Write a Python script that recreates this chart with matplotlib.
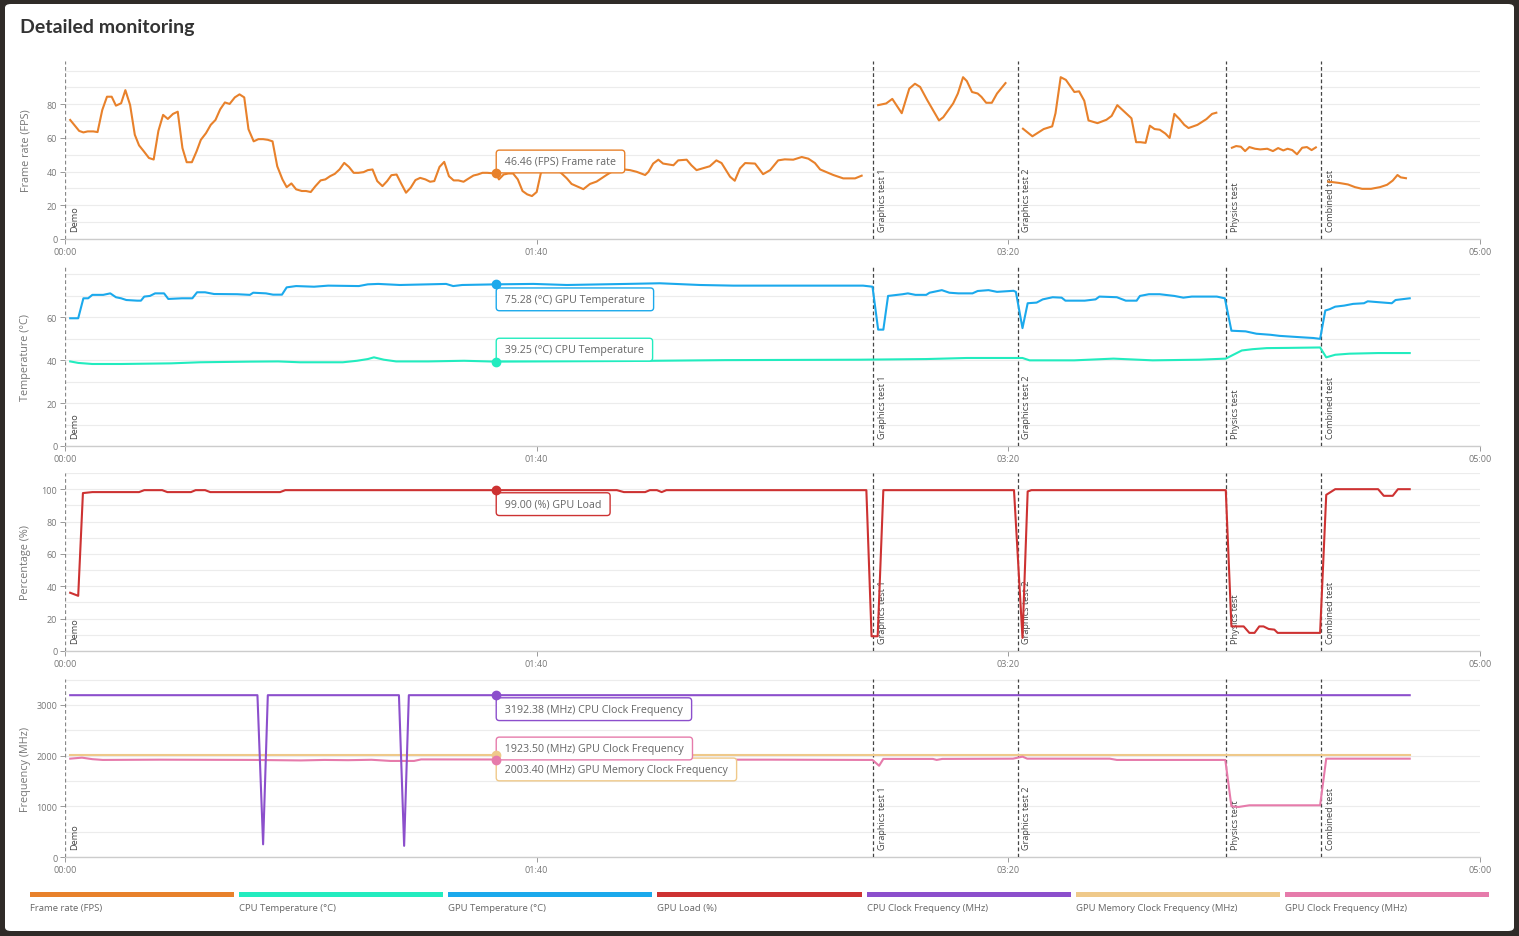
import numpy as np
import matplotlib
matplotlib.use("Agg")
import matplotlib.pyplot as plt
from matplotlib.patches import FancyBboxPatch, Rectangle
from matplotlib.transforms import blended_transform_factory

nan = float('nan')

# ---------------- data ----------------
# Frame rate (FPS), one segment per test (gaps between tests)
fps_demo_t = [1.1, 3.0, 3.9, 4.8, 6.0, 6.9, 7.9, 8.9, 9.9, 10.8,
              11.9, 12.8, 13.8, 14.8, 15.7, 16.7, 17.8, 18.8, 19.8, 20.8,
              21.8, 22.9, 23.9, 24.9, 25.8, 26.9, 27.9, 28.8, 29.9, 30.9,
              31.9, 32.9, 33.9, 34.9, 36.0, 37.0, 38.0, 38.9, 40.0, 41.0,
              42.0, 43.0, 44.0, 45.0, 46.1, 47.0, 48.0, 49.0, 50.2, 51.1,
              52.1, 53.1, 54.2, 55.2, 56.2, 57.2, 58.2, 59.2, 60.2, 61.2,
              62.2, 63.3, 64.2, 65.2, 66.2, 67.3, 68.3, 69.2, 70.3, 71.3,
              72.3, 73.3, 74.3, 75.3, 76.4, 77.4, 78.3, 79.4, 80.4, 81.4,
              82.4, 83.4, 84.5, 85.5, 86.6, 87.5, 88.5, 89.5, 91.4, 92.0,
              93.0, 94.0, 95.0, 96.0, 97.0, 98.0, 99.0, 100.0, 100.9, 102.5,
              104.5, 106.4, 107.4, 109.9, 111.3, 112.7, 114.8, 117.0, 119.8, 121.2,
              123.0, 123.7, 124.7, 125.8, 126.8, 129.0, 130.0, 131.8, 132.8, 133.9,
              136.7, 138.1, 139.2, 141.0, 142.0, 143.1, 144.2, 146.3, 148.0, 149.5,
              151.2, 152.6, 154.4, 156.2, 157.6, 159.0, 160.1, 162.9, 165.0, 167.5,
              168.9]
fps_demo_v = [70.7, 64.2, 63.3, 63.9, 63.9, 63.5, 76.6, 84.5, 84.5, 79.2,
              80.6, 88.4, 79.6, 61.9, 55.6, 52.1, 48.1, 47.2, 64.2, 73.7,
              71.3, 74.3, 75.6, 54.0, 45.6, 45.6, 52.1, 58.9, 62.9, 67.8,
              70.7, 77.0, 81.1, 80.2, 84.1, 85.9, 84.1, 65.2, 58.0, 59.3,
              59.3, 58.9, 58.0, 43.2, 35.4, 30.8, 33.0, 29.5, 28.5, 28.5,
              27.9, 31.4, 34.8, 35.4, 37.3, 38.7, 41.3, 45.2, 42.8, 39.3,
              39.3, 39.7, 40.9, 41.3, 34.4, 31.4, 34.4, 37.9, 38.3, 32.8,
              27.5, 30.5, 35.0, 36.3, 35.4, 34.0, 34.4, 42.8, 45.8, 37.3,
              34.8, 34.8, 34.0, 35.8, 37.7, 38.3, 39.3, 39.3, 38.9, 35.4,
              38.3, 38.9, 38.9, 35.4, 28.5, 26.5, 25.5, 27.9, 39.3, 44.0,
              41.0, 36.0, 32.7, 29.6, 32.7, 34.1, 38.0, 41.8, 40.9, 39.9,
              38.0, 39.9, 44.8, 47.1, 44.8, 43.8, 46.7, 47.1, 43.8, 40.9,
              43.2, 46.7, 45.1, 37.0, 34.6, 41.9, 45.1, 44.8, 38.5, 40.9,
              46.7, 47.3, 47.1, 48.7, 47.7, 45.1, 41.3, 38.0, 36.0, 36.0,
              37.6]
fps_gt1_t = [172.4, 174.1, 175.4, 177.4, 179.0, 180.2, 181.3, 182.8, 185.3, 186.2,
             188.3, 189.3, 190.4, 191.2, 192.3, 193.5, 194.3, 195.3, 196.5, 197.6, 199.4]
fps_gt1_v = [79.5, 80.5, 83.2, 74.7, 89.3, 92.2, 90.3, 82.5, 70.4, 72.3,
             80.5, 86.4, 96.1, 93.8, 87.3, 86.4, 84.4, 80.9, 80.9, 86.4, 92.6]
fps_gt2_t = [203.1, 205.1, 207.5, 209.3, 210.0, 211.1, 212.2, 214.0, 215.0, 216.1,
             217.0, 218.9, 220.8, 221.9, 223.1, 224.6, 226.1, 227.1, 228.0, 229.1,
             230.0, 231.0, 232.1, 233.3, 234.2, 235.2, 236.3, 237.3, 238.2, 240.1,
             242.0, 243.2, 244.1]
fps_gt2_v = [65.5, 61.0, 65.3, 66.9, 74.7, 96.1, 94.5, 87.3, 87.7, 82.1,
             70.4, 68.8, 70.8, 73.1, 79.5, 75.6, 71.7, 57.5, 57.5, 57.1,
             67.3, 65.3, 64.9, 62.6, 60.0, 74.3, 71.2, 67.8, 65.9, 67.8,
             71.2, 74.3, 75.0]
fps_phys_t = [247.4, 248.3, 249.3, 250.2, 251.1, 252.3, 253.4, 254.9, 256.1, 257.2,
              258.3, 259.2, 260.2, 261.2, 262.3, 263.3, 264.3, 265.2]
fps_phys_v = [54.2, 55.2, 54.8, 52.2, 54.6, 53.6, 53.2, 53.6, 52.2, 54.0,
              52.6, 53.6, 52.8, 50.3, 54.2, 54.6, 52.8, 54.4]
fps_comb_t = [267.8, 270.1, 272.0, 273.5, 275.0, 276.9, 278.8, 280.3, 281.5, 282.5, 283.2, 284.3]
fps_comb_v = [34.1, 33.3, 32.4, 30.8, 29.8, 29.8, 30.8, 32.2, 34.7, 38.0, 36.6, 36.1]

# GPU temperature (°C)
gpu_temp_t = [1.1, 2.8, 3.9, 4.9, 5.8, 8.1, 9.6, 10.8, 11.9, 13.0, 15.3, 16.1, 16.8, 18.0, 19.1,
              21.0, 21.9, 24.8, 27.0, 28.0, 29.7, 31.6, 36.5, 39.2, 39.9, 42.6, 44.1, 46.0, 47.0,
              49.0, 52.8, 55.8, 62.3, 64.2, 66.4, 71.0, 77.0, 80.8, 82.3, 84.2, 91.4, 99.3, 106.4,
              119.1, 126.1, 134.6, 141.7, 162.9, 169.2, 171.2, 172.4, 173.5, 174.5, 177.6, 178.7,
              180.3, 182.6, 183.3, 185.9, 187.5, 189.4, 192.4, 193.5, 195.8, 197.6, 201.1, 201.6,
              203.0, 204.1, 206.0, 207.3, 209.4, 211.3, 212.1, 216.2, 218.5, 219.3, 223.0, 224.9,
              227.2, 227.9, 229.8, 232.1, 235.2, 237.1, 238.9, 244.2, 245.9, 247.3, 250.3, 252.6,
              255.6, 257.5, 261.7, 264.7, 266.1, 267.2, 268.1, 269.3, 271.2, 273.1, 275.4, 276.2,
              278.4, 281.3, 282.1, 285.1]
gpu_temp_v = [59.5, 59.5, 68.8, 68.8, 70.4, 70.4, 71.1, 69.3, 68.8, 68.0, 67.7, 67.7, 69.6, 69.9, 71.1,
              71.1, 68.5, 68.8, 68.8, 71.6, 71.6, 70.8, 70.7, 70.4, 71.4, 71.1, 70.5, 70.5, 73.9,
              74.5, 74.2, 74.7, 74.5, 75.3, 75.5, 75.0, 75.3, 75.5, 74.5, 75.0, 75.3, 75.5, 75.0,
              75.5, 75.8, 75.0, 74.7, 74.7, 74.7, 74.2, 54.2, 54.2, 69.9, 70.7, 71.1,
              70.4, 70.4, 71.4, 72.6, 71.4, 71.1, 71.1, 72.2, 72.6, 71.8, 72.3, 71.8,
              54.9, 66.5, 66.8, 68.3, 69.3, 69.1, 67.7, 67.7, 68.3, 69.6, 69.3, 67.7,
              67.7, 69.9, 70.7, 70.7, 69.9, 69.1, 69.6, 69.6, 68.8, 53.7, 53.4, 52.3,
              51.8, 51.3, 50.7, 50.3, 49.9, 63.1, 63.7, 64.9, 65.4, 66.2, 66.5, 67.4,
              67.0, 66.5, 68.0, 68.8]

# CPU temperature (°C)
cpu_temp_t = [1.1, 2.8, 5.8, 11.9, 22.5, 28.6, 39.2, 45.2, 49.8, 58.9, 61.9, 64.2, 65.5, 67.6,
              70.2, 77.0, 84.6, 91.4, 120.0, 140.0, 168.5, 182.6, 191.2, 201.8, 203.0, 204.5,
              214.0, 222.3, 230.6, 240.5, 246.1, 247.7, 249.5, 251.8, 254.8, 259.4, 266.1,
              267.4, 269.3, 272.3, 278.4, 285.1]
cpu_temp_v = [39.4, 38.7, 38.2, 38.2, 38.5, 39.0, 39.3, 39.4, 39.0, 39.0, 39.7, 40.5, 41.3, 40.2,
              39.4, 39.4, 39.7, 39.3, 39.6, 40.0, 40.2, 40.5, 41.0, 41.0, 41.0, 39.9,
              39.9, 40.7, 39.9, 40.2, 40.7, 42.5, 44.5, 45.1, 45.6, 45.7, 45.9,
              41.3, 42.5, 43.0, 43.3, 43.3]

# GPU load (%)
gpu_load_t = [1.1, 2.8, 3.8, 5.8, 15.7, 16.8, 20.6, 21.7, 26.7, 27.7, 29.7, 30.8, 45.6, 46.7,
              117.0, 118.5, 123.0, 124.0, 125.5, 126.5, 127.5, 169.9, 171.0, 172.3, 173.5,
              201.2, 203.0, 204.1, 204.9, 246.1, 247.3, 249.9, 251.1, 252.2, 253.2, 254.1,
              255.2, 256.4, 257.1, 266.1, 267.4, 269.3, 278.4, 279.6, 281.5, 282.6, 285.1]
gpu_load_v = [36.0, 34.1, 97.6, 98.2, 98.2, 99.4, 99.4, 98.2, 98.2, 99.4, 99.4, 98.2, 98.2, 99.4,
              99.4, 98.2, 98.2, 99.4, 99.4, 98.2, 99.4, 99.4, 9.1, 9.1, 99.4,
              99.4, 8.1, 98.6, 99.4, 99.4, 15.2, 15.2, 11.2, 11.2, 15.2, 15.2,
              13.6, 13.2, 11.2, 11.2, 96.5, 100.0, 100.0, 95.9, 95.9, 100.0, 100.0]

# CPU clock frequency (MHz)
cpu_clock_t = [1.1, 40.8, 42.0, 43.0, 70.8, 71.9, 72.9, 285.1]
cpu_clock_v = [3192.4, 3192.4, 250.0, 3192.4, 3192.4, 220.0, 3192.4, 3192.4]

# GPU memory clock frequency (MHz)
gpu_mem_t = [1.1, 285.1]
gpu_mem_v = [2003.4, 2003.4]

# GPU clock frequency (MHz)
gpu_clock_t = [1.1, 3.6, 5.8, 8.0, 20.0, 40.0, 50.0, 55.0, 60.0, 65.0, 69.0, 74.0, 75.5, 91.4,
               120.0, 150.0, 169.5, 171.2, 172.6, 173.5, 184.0, 184.8, 186.0, 201.0, 203.0,
               204.0, 221.5, 223.0, 246.0, 247.3, 248.8, 251.1, 266.1, 267.4, 285.1]
gpu_clock_v = [1940, 1960, 1930, 1915, 1920, 1915, 1905, 1915, 1910, 1918, 1895, 1895, 1925, 1923.5,
               1920, 1920, 1915, 1915, 1800, 1935, 1935, 1915, 1935, 1940, 1980,
               1940, 1940, 1915, 1915, 1000, 987, 1020, 1020, 1940, 1940]

event_times = [0.0, 171.3, 202.0, 246.2, 266.3]
event_labels = ['Demo', 'Graphics test 1', 'Graphics test 2', 'Physics test', 'Combined test']

xtick_vals = [0, 100, 200, 300]
xtick_labels = ['00:00', '01:40', '03:20', '05:00']

hover_time = 91.4
tip_fps = '46.46 (FPS) Frame rate'
tip_gpu_temp = '75.28 (°C) GPU Temperature'
tip_cpu_temp = '39.25 (°C) CPU Temperature'
tip_gpu_load = '99.00 (%) GPU Load'
tip_cpu_clock = '3192.38 (MHz) CPU Clock Frequency'
tip_gpu_clock = '1923.50 (MHz) GPU Clock Frequency'
tip_gpu_mem = '2003.40 (MHz) GPU Memory Clock Frequency'

legend_labels = ['Frame rate (FPS)', 'CPU Temperature (°C)', 'GPU Temperature (°C)', 'GPU Load (%)',
                 'CPU Clock Frequency (MHz)', 'GPU Memory Clock Frequency (MHz)', 'GPU Clock Frequency (MHz)']

C_FPS = '#e8812b'
C_CPU_T = '#22ecbf'
C_GPU_T = '#1ba9ec'
C_LOAD = '#cd3232'
C_CPU_CLK = '#8c4fcc'
C_GPU_MEM = '#efc98a'
C_GPU_CLK = '#e67bab'
legend_colors = [C_FPS, C_CPU_T, C_GPU_T, C_LOAD, C_CPU_CLK, C_GPU_MEM, C_GPU_CLK]

# ---------------- figure ----------------
plt.rcParams['font.family'] = ['Open Sans', 'DejaVu Sans']
W, H = 1519, 937
fig = plt.figure(figsize=(W / 100, H / 100), dpi=100)
fig.patch.set_facecolor('#2f2b28')
fig.add_artist(FancyBboxPatch((5 / W, 5 / H), 1509 / W, 927 / H,
                              boxstyle='round,pad=0,rounding_size=0.004',
                              transform=fig.transFigure, fc='white', ec='none', zorder=0))
fig.text(20 / W, 1 - 27 / H, 'Detailed monitoring', family=['Lato', 'DejaVu Sans'],
         fontweight='bold', fontsize=14, color='#333333', va='center', ha='left')

LEFT, RIGHT = 65, 1480


def make_ax(top, bottom, ylabel, ymax, major, minor_step):
    ax = fig.add_axes([LEFT / W, 1 - bottom / H, (RIGHT - LEFT) / W, (bottom - top) / H])
    ax.set_facecolor('none')
    ax.set_xlim(0, 300)
    ax.set_ylim(0, ymax)
    ax.set_xticks(xtick_vals)
    ax.set_xticklabels(xtick_labels)
    ax.set_yticks(major)
    ax.set_yticks(np.arange(0, ymax, minor_step), minor=True)
    ax.grid(which='both', axis='y', color='#ececec', lw=0.8)
    ax.set_axisbelow(True)
    ax.tick_params(axis='y', which='minor', length=0)
    ax.tick_params(axis='both', which='major', labelsize=6.5, labelcolor='#777777',
                   color='#999999', length=3.5, width=0.7, pad=2)
    for s in ['top', 'right', 'left']:
        ax.spines[s].set_visible(False)
    ax.spines['bottom'].set_color('#cccccc')
    ax.spines['bottom'].set_linewidth(1.0)
    ax.set_ylabel(ylabel, fontsize=7.8, color='#777777')
    ax.yaxis.set_label_coords((31 - LEFT) / (RIGHT - LEFT), 0.5)
    tr = blended_transform_factory(ax.transData, ax.transAxes)
    for et, el in zip(event_times, event_labels):
        ax.axvline(et, color='#444444' if et > 0 else '#888888', lw=0.9,
                   ls=(0, (3, 2)), zorder=3)
        ax.text(et + 1.0, 0.045, el, rotation=90, transform=tr, fontsize=6.6,
                color='#444444', va='bottom', ha='left', zorder=4)
    return ax


def tooltip(ax, t, v, text, color, dy):
    ax.annotate(' ' + text + ' ', xy=(t, v), xytext=(6, dy), textcoords='offset pixels',
                ha='left', va='center', fontsize=7.7, color='#666666', zorder=8,
                annotation_clip=False,
                bbox=dict(boxstyle='round,pad=0.55,rounding_size=0.3', fc='white',
                          ec=color, lw=1.0))


def marker(ax, t_arr, v_arr, color):
    v = float(np.interp(hover_time, t_arr, v_arr))
    ax.plot([hover_time], [v], 'o', ms=6, color=color, zorder=9)
    return v


# Panel 1: frame rate
fps_t = fps_demo_t + [nan] + fps_gt1_t + [nan] + fps_gt2_t + [nan] + fps_phys_t + [nan] + fps_comb_t
fps_v = fps_demo_v + [nan] + fps_gt1_v + [nan] + fps_gt2_v + [nan] + fps_phys_v + [nan] + fps_comb_v
fps_max = np.nanmax(fps_v) * 1.1
ax1 = make_ax(62, 240, 'Frame rate (FPS)', fps_max, [0, 20, 40, 60, 80], 10)
ax1.plot(fps_t, fps_v, color=C_FPS, lw=1.5, zorder=5)
v = marker(ax1, fps_demo_t, fps_demo_v, C_FPS)
tooltip(ax1, hover_time, v, tip_fps, C_FPS, 12)

# Panel 2: temperatures
t_max = max(max(gpu_temp_v), max(cpu_temp_v)) * 1.1
ax2 = make_ax(268, 447, 'Temperature (°C)', t_max, [0, 20, 40, 60], 10)
ax2.plot(cpu_temp_t, cpu_temp_v, color=C_CPU_T, lw=1.5, zorder=5)
ax2.plot(gpu_temp_t, gpu_temp_v, color=C_GPU_T, lw=1.5, zorder=5)
v = marker(ax2, gpu_temp_t, gpu_temp_v, C_GPU_T)
tooltip(ax2, hover_time, v, tip_gpu_temp, C_GPU_T, -15)
v = marker(ax2, cpu_temp_t, cpu_temp_v, C_CPU_T)
tooltip(ax2, hover_time, v, tip_cpu_temp, C_CPU_T, 12)

# Panel 3: GPU load
l_max = max(gpu_load_v) * 1.1
ax3 = make_ax(474, 652, 'Percentage (%)', l_max, [0, 20, 40, 60, 80, 100], 10)
ax3.plot(gpu_load_t, gpu_load_v, color=C_LOAD, lw=1.5, zorder=5)
v = marker(ax3, gpu_load_t, gpu_load_v, C_LOAD)
tooltip(ax3, hover_time, v, tip_gpu_load, C_LOAD, -14)

# Panel 4: frequencies
f_max = max(max(cpu_clock_v), max(gpu_mem_v), max(gpu_clock_v)) * 1.1
ax4 = make_ax(680, 858, 'Frequency (MHz)', f_max, [0, 1000, 2000, 3000], 500)
ax4.plot(gpu_mem_t, gpu_mem_v, color=C_GPU_MEM, lw=1.5, zorder=5)
ax4.plot(gpu_clock_t, gpu_clock_v, color=C_GPU_CLK, lw=1.5, zorder=5)
ax4.plot(cpu_clock_t, cpu_clock_v, color=C_CPU_CLK, lw=1.5, zorder=5)
v = marker(ax4, cpu_clock_t, cpu_clock_v, C_CPU_CLK)
tooltip(ax4, hover_time, v, tip_cpu_clock, C_CPU_CLK, -14)
v_mem = marker(ax4, gpu_mem_t, gpu_mem_v, C_GPU_MEM)
tooltip(ax4, hover_time, v_mem, tip_gpu_mem, C_GPU_MEM, -14)
v_clk = marker(ax4, gpu_clock_t, gpu_clock_v, C_GPU_CLK)
tooltip(ax4, hover_time, v_clk, tip_gpu_clock, C_GPU_CLK, 11)

# Legend bars
x0, x1, gap = 30, 1489, 5
n = len(legend_labels)
bw = (x1 - x0 - gap * (n - 1)) / n
for i, (lab, c) in enumerate(zip(legend_labels, legend_colors)):
    left = x0 + i * (bw + gap)
    fig.add_artist(Rectangle((left / W, 1 - 898 / H), bw / W, 5 / H,
                             transform=fig.transFigure, fc=c, ec='none'))
    fig.text(left / W, 1 - 909 / H, lab, fontsize=6.8, color='#666666', va='center', ha='left')

fig.savefig('out.png', dpi=100, facecolor=fig.get_facecolor())
